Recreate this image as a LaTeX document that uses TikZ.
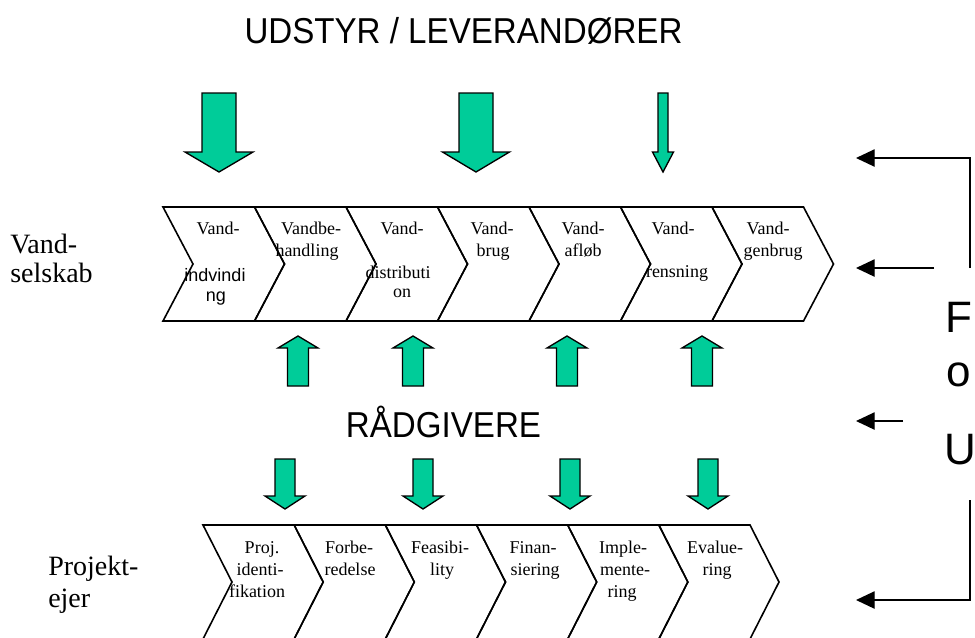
\documentclass[tikz,border=0pt]{standalone}
\usepackage{fontspec}
\usepackage{graphicx}
\setmainfont{Liberation Serif}
\setsansfont{Liberation Sans}
\usetikzlibrary{arrows.meta}
\definecolor{arrowgreen}{RGB}{0,204,153}
\tikzset{
  chev/.style={draw=black, line width=1.2pt, line join=miter},
  greenarrow/.style={draw=black, fill=arrowgreen, line width=1pt, line join=miter},
  fouline/.style={draw=black, line width=1pt, -{Triangle[length=14pt,width=13pt]}},
  boxtxt/.style={font=\fontsize{13.5}{16}\selectfont, anchor=base, inner sep=0pt},
  boxsans/.style={font=\sffamily\fontsize{13.5}{16}\selectfont, anchor=base, inner sep=0pt},
  sidelbl/.style={font=\fontsize{21}{25}\selectfont, anchor=base west, inner sep=0pt},
  bigsans/.style={font=\sffamily\fontsize{27}{32}\selectfont, anchor=base, inner sep=0pt},
  foutxt/.style={font=\sffamily\fontsize{33}{40}\selectfont, anchor=base, inner sep=0pt},
}
% left, top, bottom, width, depth
\newcommand{\mychev}[5]{%
  \draw[chev] (#1,#2) -- ({#1+#4},#2) -- ({#1+#4+#5},{(#2+#3)/2}) -- ({#1+#4},#3)
    -- (#1,#3) -- ({#1+#5},{(#2+#3)/2}) -- cycle;}
% centre x, shaft half width, head half width, tail y, head base y, tip y
\newcommand{\blockarrow}[6]{%
  \draw[greenarrow] ({#1-#2},#4) -- ({#1+#2},#4) -- ({#1+#2},#5) -- ({#1+#3},#5)
    -- (#1,#6) -- ({#1-#3},#5) -- ({#1-#2},#5) -- cycle;}
\begin{document}
\begin{tikzpicture}[x=0.75pt,y=-0.75pt]
\useasboundingbox (0,0) rectangle (975,637);
\clip (0,0) rectangle (975,637);

% titles
\node[bigsans] (title) at (463.5,43) {\scalebox{0.92}[1]{UDSTYR / LEVERANDØRER}};
\node[bigsans] (raad) at (443.5,437) {\scalebox{0.92}[1]{RÅDGIVERE}};

% top green arrows
\blockarrow{219}{17}{34}{93}{152}{172}
\blockarrow{476}{17}{33.5}{93}{152}{172}
\blockarrow{663}{5}{10.5}{93}{152}{172}

% up arrows
\foreach \cx in {298,413,567,702} {\blockarrow{\cx}{10.5}{20}{386}{348}{336}}
% down arrows
\foreach \cx in {285,423,570,708} {\blockarrow{\cx}{10}{20}{459}{496}{509}}

% top chevrons
\foreach \i in {0,...,6} {\mychev{163+\i*91.5}{207}{321}{91.5}{30}}
% bottom chevrons
\foreach \i in {0,...,5} {\mychev{203+\i*91.17}{525}{639}{91.17}{29}}

% top chevron texts
\node[boxtxt] (t1a) at (218,234) {Vand-};
\node[boxsans] (t1b) at (215,281) {indvindi};
\node[boxsans] (t1c) at (216,301) {ng};
\node[boxtxt] (t2a) at (311,234) {Vandbe-};
\node[boxtxt] (t2b) at (307,256) {handling};
\node[boxtxt] (t3a) at (402,234) {Vand-};
\node[boxtxt] (t3b) at (398,278) {distributi};
\node[boxtxt] (t3c) at (402,297) {on};
\node[boxtxt] (t4a) at (492,234) {Vand-};
\node[boxtxt] (t4b) at (493,256) {brug};
\node[boxtxt] (t5a) at (583,234) {Vand-};
\node[boxtxt] (t5b) at (583,256) {afløb};
\node[boxtxt] (t6a) at (673,234) {Vand-};
\node[boxtxt] (t6b) at (677,277) {rensning};
\node[boxtxt] (t7a) at (768,234) {Vand-};
\node[boxtxt] (t7b) at (773,256) {genbrug};

% bottom chevron texts
\node[boxtxt] (b1a) at (262,553) {Proj.};
\node[boxtxt] (b1b) at (260,575) {identi-};
\node[boxtxt] (b1c) at (257,597) {fikation};
\node[boxtxt] (b2a) at (349,553) {Forbe-};
\node[boxtxt] (b2b) at (350,575) {redelse};
\node[boxtxt] (b3a) at (440,553) {Feasibi-};
\node[boxtxt] (b3b) at (442,575) {lity};
\node[boxtxt] (b4a) at (533,553) {Finan-};
\node[boxtxt] (b4b) at (535,575) {siering};
\node[boxtxt] (b5a) at (623,553) {Imple-};
\node[boxtxt] (b5b) at (625,575) {mente-};
\node[boxtxt] (b5c) at (622,597) {ring};
\node[boxtxt] (b6a) at (715,553) {Evalue-};
\node[boxtxt] (b6b) at (717,575) {ring};

% side labels
\node[sidelbl] (vs1) at (10,253) {Vand-};
\node[sidelbl] (vs2) at (10,282) {selskab};
\node[sidelbl] (pe1) at (48,575) {Projekt-};
\node[sidelbl] (pe2) at (48,607) {ejer};

% F o U
\node[foutxt] (fF) at (959,332) {F};
\node[foutxt] (fo) at (959,386) {o};
\node[foutxt] (fU) at (960,464) {U};

\coordinate (a1s) at (970,268);
\coordinate (a1e) at (856,158);
\coordinate (a2s) at (934,268);
\coordinate (a2e) at (856,268);
\coordinate (a3s) at (903,421);
\coordinate (a3e) at (856,421);
\coordinate (a4s) at (970,500);
\coordinate (a4e) at (856,600);
\draw[fouline] (a1s) |- (a1e);
\draw[fouline] (a2s) -- (a2e);
\draw[fouline] (a3s) -- (a3e);
\draw[fouline] (a4s) |- (a4e);
\end{tikzpicture}
\end{document}
